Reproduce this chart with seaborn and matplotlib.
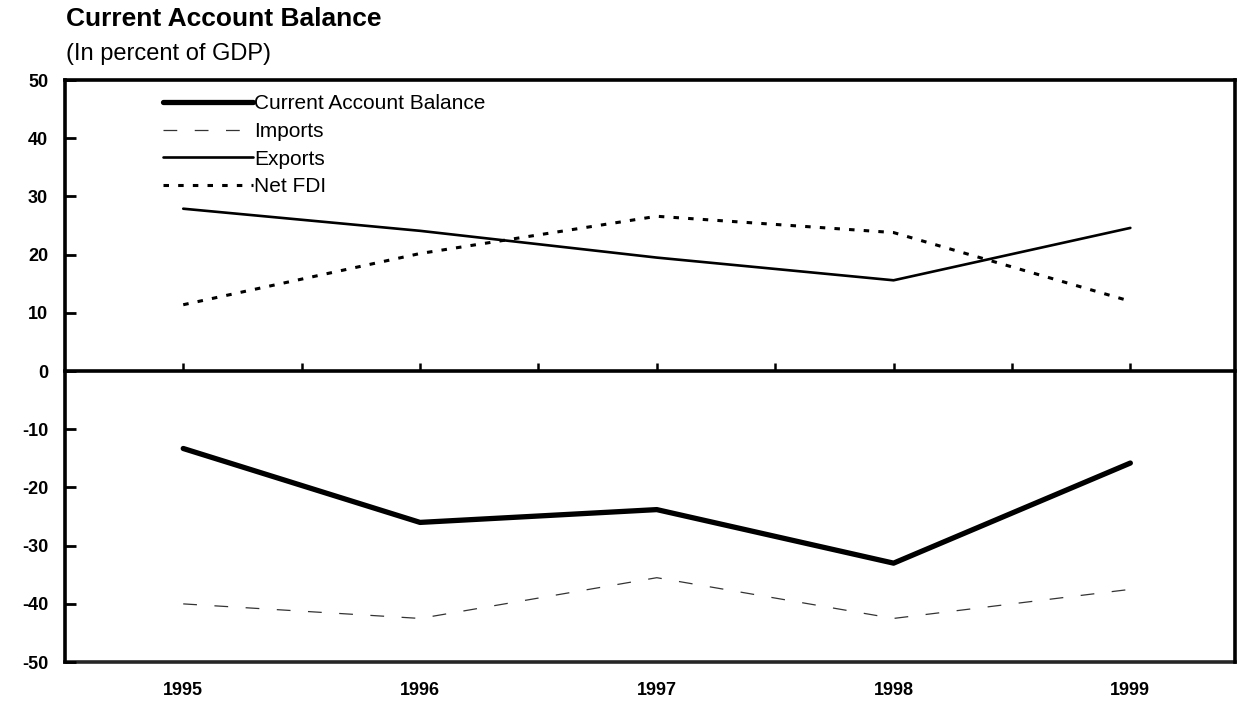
import numpy as np
import pandas as pd
import matplotlib
matplotlib.use("Agg")
import matplotlib.pyplot as plt
import seaborn as sns

# values (percent of GDP)
years = [1995, 1996, 1997, 1998, 1999]
current_account = [-13.3, -26.0, -23.8, -33.0, -15.8]
imports = [-40.0, -42.5, -35.5, -42.5, -37.5]
exports = [27.9, 24.1, 19.5, 15.6, 24.6]
net_fdi = [11.4, 20.2, 26.6, 23.8, 12.0]

yticks = [50, 40, 30, 20, 10, 0, -10, -20, -30, -40, -50]
ytick_labels = ["50", "40", "30", "20", "10", "0", "-10", "-20", "-30", "-40", "-50"]
year_labels = ["1995", "1996", "1997", "1998", "1999"]

df = pd.DataFrame({
    "Year": years * 4,
    "Value": current_account + imports + exports + net_fdi,
    "Series": (["Current Account Balance"] * 5 + ["Imports"] * 5
               + ["Exports"] * 5 + ["Net FDI"] * 5),
})

styles = {
    "Current Account Balance": dict(lw=3.8, color="black", dashes=None),
    "Imports": dict(lw=0.9, color="#333333", dashes=(11, 14)),
    "Exports": dict(lw=1.9, color="black", dashes=None),
    "Net FDI": dict(lw=2.2, color="black", dashes=(1.8, 3.0)),
}

sns.set_theme(style="white")
plt.rcParams["font.family"] = ["Liberation Sans", "DejaVu Sans"]
plt.rcParams["text.color"] = "black"
plt.rcParams["xtick.color"] = "black"
plt.rcParams["ytick.color"] = "black"
plt.rcParams["ytick.left"] = True
plt.rcParams["xtick.bottom"] = True

fig = plt.figure(figsize=(12.47, 7.15), dpi=100)
ax = fig.add_axes([0.052, 0.074, 0.938, 0.814])

for name, st in styles.items():
    sub = df[df["Series"] == name]
    sns.lineplot(data=sub, x="Year", y="Value", ax=ax, label=name,
                 color=st["color"], linewidth=st["lw"])
    if st["dashes"] is not None:
        ax.lines[-1].set_dashes(st["dashes"])

ax.set_xlim(1994.5, 1999.44)
ax.set_ylim(-50, 50)
ax.set_xlabel("")
ax.set_ylabel("")

# y axis: ticks pointing inward
ax.set_yticks(yticks)
ax.set_yticklabels(ytick_labels)
ax.tick_params(axis="y", left=True, direction="in", length=8, width=2,
               labelsize=13, pad=12)

# the x axis runs through zero, with half-year ticks pointing up
ax.spines["bottom"].set_position(("data", 0))
ax.set_xticks(np.arange(1995, 1999.01, 0.5))
ax.tick_params(axis="x", bottom=True, direction="in", length=6, width=1.8,
               labelbottom=False)

# bottom frame carries the year labels
sec = ax.secondary_xaxis(0)
sec.set_xticks(years)
sec.set_xticklabels(year_labels)
sec.tick_params(axis="x", length=0, pad=14, labelsize=13)
sec.spines["bottom"].set_linewidth(2.6)
for lab in sec.get_xticklabels():
    lab.set_fontweight("bold")

for side in ["left", "right", "top", "bottom"]:
    ax.spines[side].set_color("black")
    ax.spines[side].set_linewidth(2.6)
for lab in ax.get_yticklabels():
    lab.set_fontweight("bold")

leg = ax.legend(loc="upper left", bbox_to_anchor=(0.077, 0.99), frameon=False,
                handlelength=4.3, handletextpad=0.05, labelspacing=0.42,
                fontsize=15, borderaxespad=0)
for t in leg.get_texts():
    t.set_color("black")

fig.text(0.053, 0.99, "Current Account Balance", fontsize=19, fontweight="bold",
         va="top", ha="left")
fig.text(0.053, 0.94, "(In percent of GDP)", fontsize=17, va="top", ha="left")

fig.savefig("out.png", dpi=100)
